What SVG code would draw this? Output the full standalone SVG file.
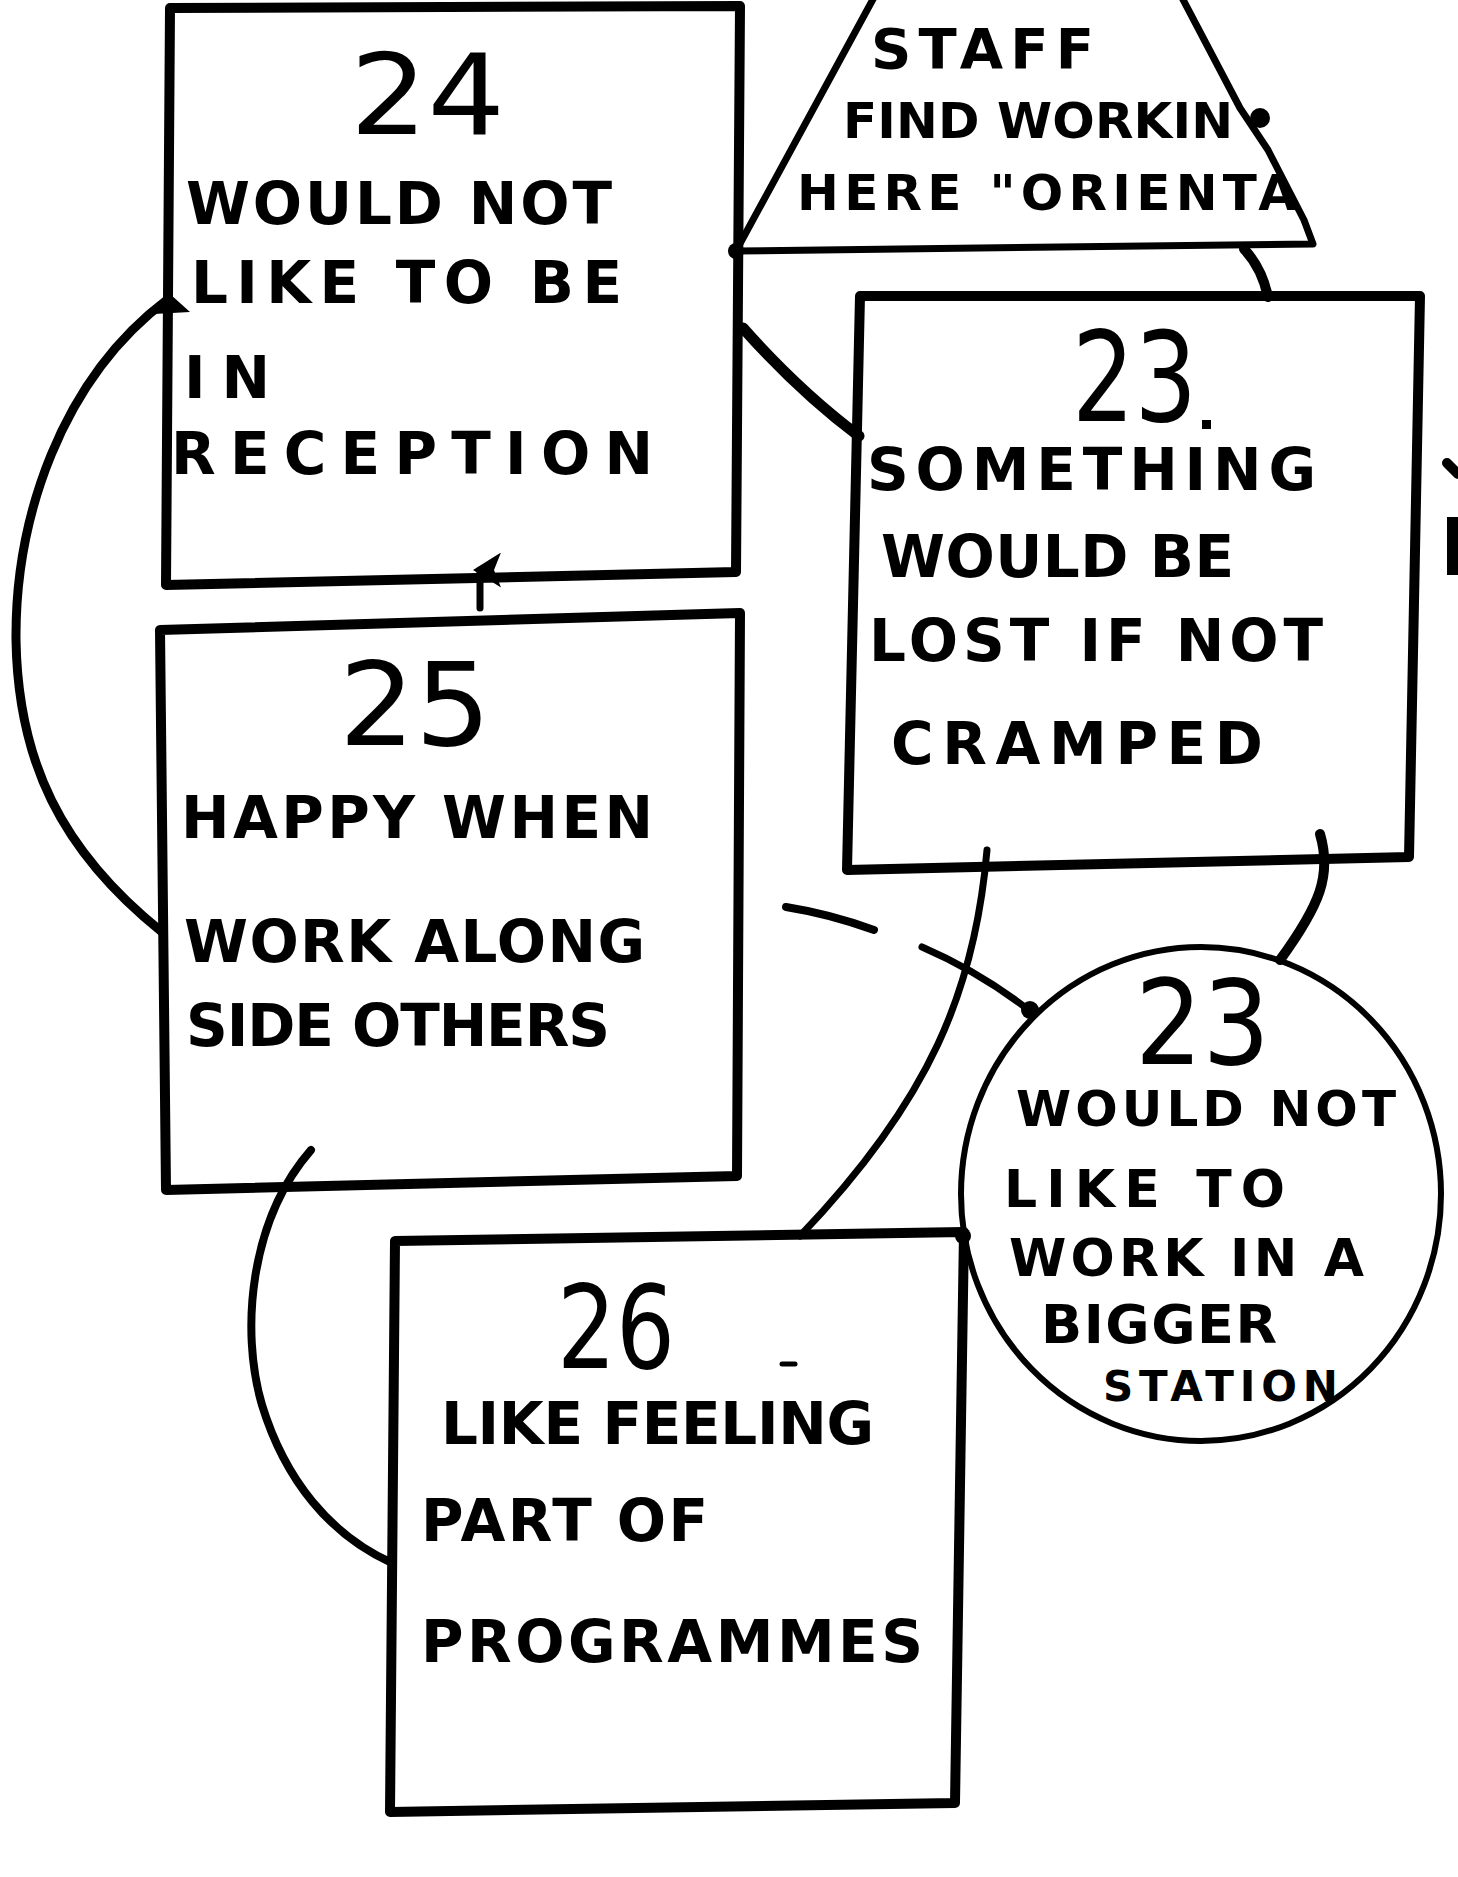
<svg xmlns="http://www.w3.org/2000/svg" width="1458" height="1877" viewBox="0 0 1458 1877">
  <defs>
    <style>
      .edge { fill: none; stroke: #000; stroke-width: 10; stroke-linejoin: round; stroke-linecap: round; }
      .link { fill: none; stroke: #000; stroke-linecap: round; stroke-linejoin: round; }
      .lbl { font-family: "DejaVu Sans", "Liberation Sans", sans-serif; font-weight: bold; font-size: 58px; fill: #000; }
      .sm { font-size: 50px; }
      .num { font-family: "DejaVu Sans", "Liberation Sans", sans-serif; font-weight: normal; fill: #000; }
    </style>
    <marker id="tip" viewBox="0 0 10 10" refX="5" refY="2" markerWidth="5" markerHeight="5" orient="auto-start-reverse" markerUnits="strokeWidth">
      <path d="M0,8 L5,0 L10,8 L5,6 Z" fill="#000"/>
    </marker>
  </defs>
  <rect width="1458" height="1877" fill="#fff"/>

  <!-- connectors -->
  <g id="connectors">
    <!-- 24 to 25, long loop on the left -->
    <path class="link" stroke-width="9" d="M168,299 C60,380 15,520 16,640 C18,760 60,850 162,932"/>
    <path d="M154,314 L170,294 L190,312 Z" fill="#000"/>
    <!-- 25 up to 24 -->
    <path class="link" stroke-width="7" d="M480,608 L480,570" marker-end="url(#tip)"/>
    <!-- 24 to 23 -->
    <path class="link" stroke-width="11" d="M743,328 Q800,392 859,436"/>
    <!-- staff trapezoid to 23 -->
    <path class="link" stroke-width="10" d="M1244,249 Q1262,268 1268,297"/>
    <!-- 23 down to 26 -->
    <path class="link" stroke-width="7" d="M987,850 C975,990 930,1100 800,1236"/>
    <!-- 23 to circle 23 -->
    <path class="link" stroke-width="10" d="M1320,834 C1332,875 1320,905 1280,960"/>
    <!-- 25 across to circle 23 (broken stroke) -->
    <path class="link" stroke-width="8" d="M786,907 Q830,914 874,930"/>
    <path class="link" stroke-width="7" d="M922,947 Q980,972 1030,1011"/>
    <circle cx="1030" cy="1010" r="9" fill="#000"/>
    <!-- 25 down to 26 -->
    <path class="link" stroke-width="8" d="M311,1150 C250,1220 240,1330 262,1405 C285,1480 330,1535 392,1563"/>
    <circle cx="963" cy="1236" r="8" fill="#000"/>
  </g>

  <!-- node 24 -->
  <g id="node-24">
    <path class="edge" d="M170,8 L740,6 L736,572 L166,585 Z"/>
    <text class="num" x="350" y="134" font-size="112" textLength="155" lengthAdjust="spacingAndGlyphs">24</text>
    <text class="lbl" x="186" y="224" textLength="426" lengthAdjust="spacing">WOULD NOT</text>
    <text class="lbl" x="191" y="303" textLength="431" lengthAdjust="spacing">LIKE TO BE</text>
    <text class="lbl" x="184" y="398" textLength="86" lengthAdjust="spacing">IN</text>
    <text class="lbl" x="171" y="474" textLength="482" lengthAdjust="spacing">RECEPTION</text>
  </g>

  <!-- node 25 -->
  <g id="node-25">
    <path class="edge" d="M160,630 L740,613 L737,1176 L166,1190 Z"/>
    <text class="num" x="339" y="745" font-size="115" textLength="152" lengthAdjust="spacingAndGlyphs">25</text>
    <text class="lbl" x="181" y="838" textLength="472" lengthAdjust="spacing">HAPPY WHEN</text>
    <text class="lbl" x="184" y="962" textLength="461" lengthAdjust="spacing">WORK ALONG</text>
    <text class="lbl" x="186" y="1046" textLength="424" lengthAdjust="spacing">SIDE OTHERS</text>
  </g>

  <!-- staff trapezoid -->
  <g id="node-staff">
    <path class="link" stroke-width="7" d="M878,-10 L736,251 L1313,244 L1304,220 L1268,150 L1240,108 L1178,-10"/>
    <circle cx="1260" cy="118" r="10" fill="#000"/>
    <circle cx="736" cy="251" r="8" fill="#000"/>
    <text class="lbl" x="871" y="68" style="font-size:56px" textLength="223" lengthAdjust="spacing">STAFF</text>
    <text class="lbl sm" x="843" y="138" textLength="390" lengthAdjust="spacing">FIND WORKIN</text>
    <text class="lbl sm" x="797" y="210" textLength="500" lengthAdjust="spacing">HERE "ORIENTA</text>
  </g>

  <!-- node 23 (box) -->
  <g id="node-23-box">
    <path class="edge" d="M860,296 L1420,296 L1409,857 L847,870 Z"/>
    <text class="num" x="1072" y="421" font-size="125" textLength="125" lengthAdjust="spacingAndGlyphs">23</text>
    <rect x="1202" y="420" width="9" height="9" fill="#000"/>
    <text class="lbl" x="867" y="490" textLength="449" lengthAdjust="spacing">SOMETHING</text>
    <text class="lbl" x="881" y="577" textLength="353" lengthAdjust="spacing">WOULD BE</text>
    <text class="lbl" x="869" y="661" textLength="454" lengthAdjust="spacing">LOST IF NOT</text>
    <text class="lbl" x="891" y="764" textLength="372" lengthAdjust="spacing">CRAMPED</text>
  </g>

  <!-- node 23 (circle) -->
  <g id="node-23-circle">
    <ellipse cx="1201" cy="1194" rx="240" ry="247" fill="none" stroke="#000" stroke-width="6"/>
    <text class="num" x="1135" y="1064" font-size="118" textLength="135" lengthAdjust="spacingAndGlyphs">23</text>
    <text class="lbl" x="1016" y="1126" style="font-size:50px" textLength="380" lengthAdjust="spacing">WOULD NOT</text>
    <text class="lbl" x="1004" y="1207" style="font-size:52px" textLength="281" lengthAdjust="spacing">LIKE TO</text>
    <text class="lbl" x="1009" y="1276" style="font-size:52px" textLength="355" lengthAdjust="spacing">WORK IN A</text>
    <text class="lbl" x="1041" y="1343" style="font-size:54px" textLength="236" lengthAdjust="spacing">BIGGER</text>
    <text class="lbl" x="1103" y="1401" style="font-size:42px" textLength="235" lengthAdjust="spacing">STATION</text>
  </g>

  <!-- node 26 -->
  <g id="node-26">
    <path class="edge" d="M395,1241 L964,1232 L955,1803 L390,1812 Z"/>
    <text class="num" x="557" y="1368" font-size="115" textLength="118" lengthAdjust="spacingAndGlyphs">26</text>
    <path class="link" stroke-width="5" d="M782,1364 L795,1364"/>
    <text class="lbl" x="441" y="1444" textLength="433" lengthAdjust="spacing">LIKE FEELING</text>
    <text class="lbl" x="421" y="1541" textLength="287" lengthAdjust="spacing">PART OF</text>
    <text class="lbl" x="421" y="1662" textLength="502" lengthAdjust="spacing">PROGRAMMES</text>
  </g>

  <!-- marks at the right edge -->
  <path class="link" stroke-width="10" d="M1447,463 L1458,474"/>
  <rect x="1447" y="517" width="11" height="58" fill="#000"/>
</svg>
